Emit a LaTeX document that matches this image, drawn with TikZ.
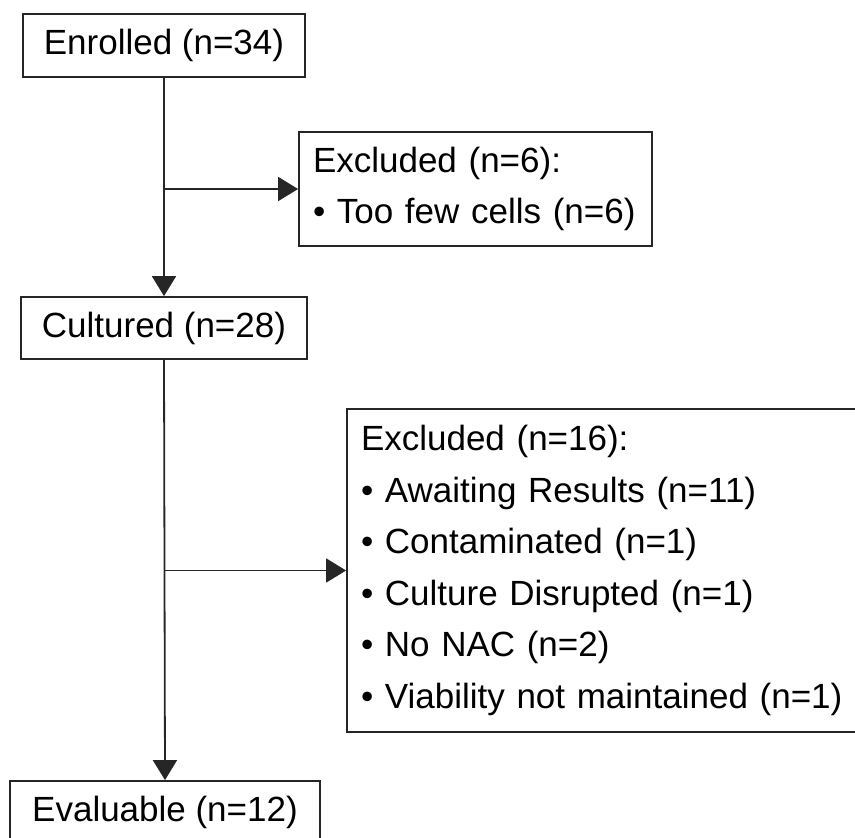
\documentclass[tikz,border=0pt]{standalone}
\usepackage{fontspec}
\setmainfont{Liberation Sans}
\usetikzlibrary{arrows.meta}
\begin{document}
\begin{tikzpicture}[x=1pt,y=-1pt,
  font=\fontsize{35}{51.5}\selectfont,
  line width=1.8pt,
  stagebox/.style={draw=black!85, rectangle, inner sep=0pt, align=center},
  exclbox/.style={draw=black!85, rectangle, inner xsep=14pt, inner ysep=0pt, align=left},
  flow/.style={draw=black!85, -{Triangle[length=20pt,width=24pt]}},
  plain/.style={draw=black!85}
]
\useasboundingbox (0,0) rectangle (855,838);
\clip (0,0) rectangle (855,838);
\node[stagebox, minimum width=282pt, minimum height=63pt] (enrolled) at (164,45.5) {Enrolled (n=34)};
\node[stagebox, minimum width=286pt, minimum height=62pt] (cultured) at (164,328) {Cultured (n=28)};
\node[stagebox, minimum width=310pt, minimum height=63pt] (evaluable) at (165,812.5) {Evaluable (n=12)};
\node[exclbox, text width=325pt, minimum height=114pt] (excl1) at (475.5,189)
  {Excluded (n=6):\\• Too few cells (n=6)};
\node[exclbox, text width=500pt, minimum height=323pt] (excl2) at (611,570.5)
  {Excluded (n=16):\\• Awaiting Results (n=11)\\• Contaminated (n=1)\\• Culture Disrupted (n=1)\\• No NAC (n=2)\\• Viability not maintained (n=1)};
\coordinate (b1) at (enrolled.south |- excl1.west);
\coordinate (b2) at (cultured.south |- excl2.west);
\draw[flow] (enrolled.south) -- (cultured.north);
\draw[flow] (b1) -- (excl1.west);
\draw[flow] (cultured.south) -- (evaluable.north);
\draw[flow] (b2) -- (excl2.west);
\end{tikzpicture}
\end{document}
